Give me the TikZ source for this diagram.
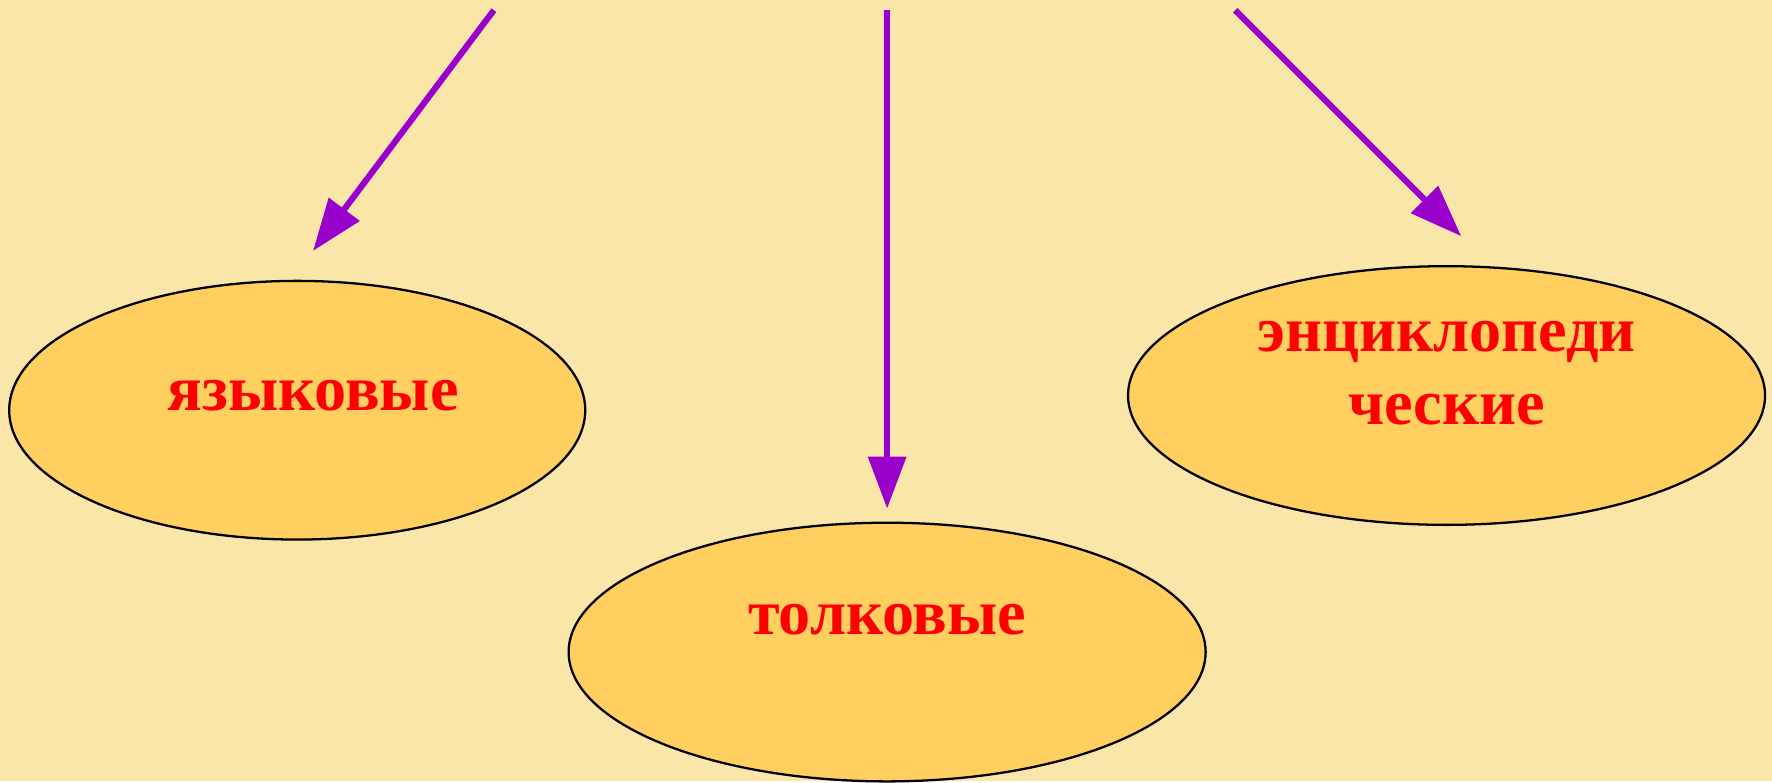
\documentclass[tikz,border=0pt]{standalone}
\usepackage{fontspec}
\setmainfont{Liberation Serif}
\usetikzlibrary{calc}
\usetikzlibrary{arrows.meta}
\usetikzlibrary{shapes.geometric}
\definecolor{bgcream}{HTML}{FBE6AA}
\definecolor{ovalfill}{HTML}{FFD060}
\definecolor{arrowpurple}{HTML}{9900CC}
\tikzstyle{ovalnode} = [draw=black, line width=0.65pt, ellipse, fill=ovalfill, inner sep=0pt, minimum height=2.588cm]
\tikzstyle{wordnode} = [text=red, font=\fontsize{18.3}{20.7}\selectfont\bfseries, align=center, inner sep=0pt]
\tikzstyle{kindarrow} = [draw=arrowpurple, line width=1.75pt, -{Triangle[length=14.8pt, width=10.6pt]}]

\begin{document}
\begin{tikzpicture}[x=0.0113cm, y=0.0113cm]
    \fill[bgcream] (0,0) rectangle (1568,691);
    \node[ovalnode, minimum width=5.763cm] (kind_lang) at (263,328) {};
    \node[ovalnode, minimum width=6.373cm] (kind_expl) at (785,114) {};
    \node[ovalnode, minimum width=6.373cm] (kind_enc) at (1280,341) {};
    \node[wordnode] (lang_txt) at ($(kind_lang)+(14,13)$) {языковые};
    \node[wordnode] (expl_txt) at ($(kind_expl)+(0,29)$) {толковые};
    \node[wordnode] (enc_txt) at ($(kind_enc)+(0,20)$) {энциклопеди\\ческие};
    \coordinate (lang_top) at (437,682);
    \coordinate (lang_tip) at (277,469);
    \coordinate (expl_top) at (785,682);
    \coordinate (expl_tip) at (785,241);
    \coordinate (enc_top) at (1093,682);
    \coordinate (enc_tip) at (1293,482);
    \draw[kindarrow] (lang_top) -- (lang_tip);
    \draw[kindarrow] (expl_top) -- (expl_tip);
    \draw[kindarrow] (enc_top) -- (enc_tip);
\end{tikzpicture}
\end{document}
